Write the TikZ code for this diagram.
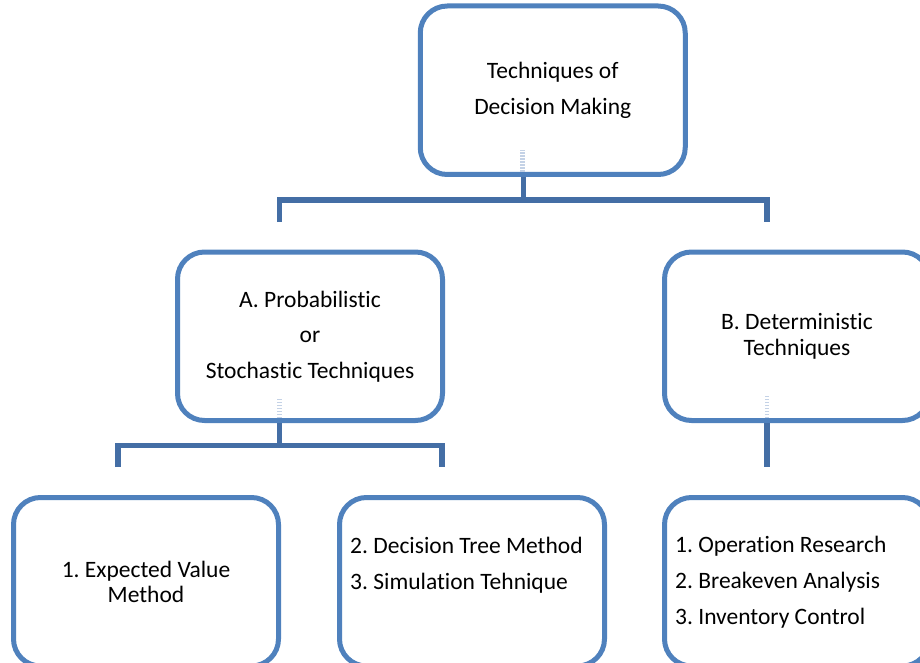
\documentclass[tikz,border=0pt]{standalone}
\usepackage{fontspec}
\setmainfont{Carlito}[Ligatures=NoCommon]
\frenchspacing
\usetikzlibrary{calc}
\definecolor{boxblue}{RGB}{79,129,189}
\definecolor{linkblue}{RGB}{68,110,165}
\definecolor{ghostblue}{RGB}{196,210,230}
\begin{document}
\begin{tikzpicture}[x=1pt,y=-1pt,
  box/.style={draw=boxblue, fill=white, line width=5pt, rounded corners=27pt,
    minimum width=265pt, minimum height=168.5pt, inner sep=0pt, align=center},
  wide/.style={font=\fontsize{23.5}{35.5}\selectfont},
  tight/.style={font=\fontsize{23.5}{25.5}\selectfont},
  listtext/.style={anchor=base west, inner sep=0pt, align=left,
    font=\fontsize{23.5}{35.8}\selectfont},
  link/.style={draw=linkblue, line width=5.5pt},
  ghost/.style={draw=ghostblue, line width=4.5pt, dash pattern=on 1.5pt off 1.5pt}]
\useasboundingbox (0,0) rectangle (920,663);
\clip (0,0) rectangle (920,663);

% boxes
\node[box, wide]  (top) at (552.75,90.25) {Techniques of\\Decision Making};
\node[box, wide]  (A)   at (310,336.25)   {A. Probabilistic\\or\\Stochastic Techniques};
\node[box, tight] (B)   at (797,336.25)   {B. Deterministic\\Techniques};
\node[box, tight] (m1)  at (146,581.75)   {1. Expected Value\\Method};
\node[box]        (m2)  at (472,581.75)   {};
\node[box]        (m3)  at (797,581.75)   {};
% list texts, placed by the baseline of their last line
\node[listtext] (l2) at (350,589) {2. Decision Tree Method\\3. Simulation Tehnique};
\node[listtext] (l3) at (675,624.5) {1. Operation Research\\2. Breakeven Analysis\\3. Inventory Control};

% junction points of the connectors
\coordinate (tj) at (523.5,200);
\coordinate (tl) at (279.5,222);
\coordinate (tr) at (767,222);
\coordinate (aj) at (279.5,445.5);
\coordinate (al) at (118,467);
\coordinate (ar) at (442,467);
\coordinate (bj) at (767,467);

% connectors
\draw[link] (tj |- top.south) -- (tj);
\draw[link] (tl) -- (tl |- tj) -- (tr |- tj) -- (tr);
\draw[link] (aj |- A.south) -- (aj);
\draw[link] (al) -- (al |- aj) -- (ar |- aj) -- (ar);
\draw[link] (bj |- B.south) -- (bj);

% faint connector stubs showing through the box bottoms
\draw[ghost] ($(tj |- top.south)+(-1,-5)$) -- ++(0,-22);
\draw[ghost] ($(aj |- A.south)+(0,-5)$) -- ++(0,-21);
\draw[ghost] ($(bj |- B.south)+(0,-5)$) -- ++(0,-23);
\end{tikzpicture}
\end{document}
